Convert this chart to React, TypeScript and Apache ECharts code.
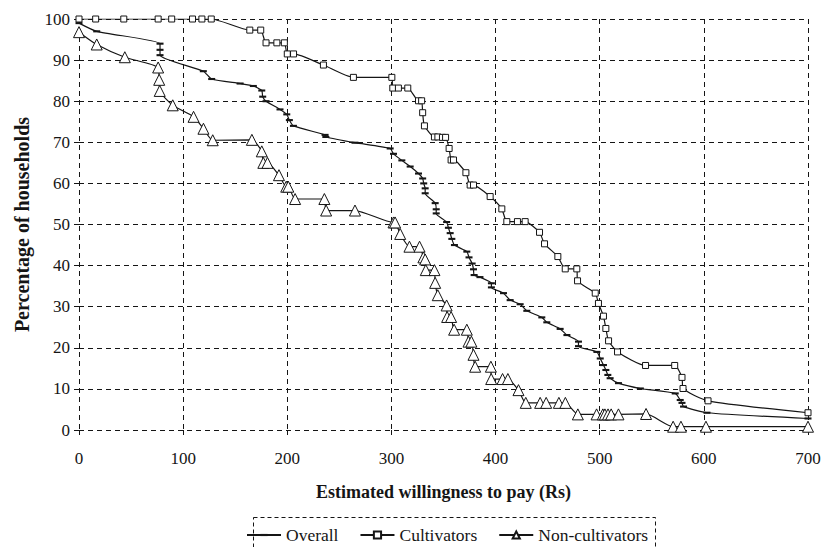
import React, { useEffect, useRef } from "react";
import * as echarts from "echarts";

const xTicks = [0, 100, 200, 300, 400, 500, 600, 700];
const yTicks = [0, 10, 20, 30, 40, 50, 60, 70, 80, 90, 100];

const overall: number[][] = [
  [0, 99], [17, 97], [77.8, 94], [77.8, 92.5], [77.8, 91.2], [119.4, 87.3], [127.4, 85.4],
  [154.7, 84.3], [167.4, 83.7], [175.5, 82.6], [176.4, 81.1], [179.6, 80], [193, 78],
  [199.5, 76.8], [202, 75.4], [205.9, 74], [236.3, 71.8], [237, 71.3], [265, 69.9],
  [298.8, 68.5], [302, 67.2], [310, 65.6], [318, 64.1], [326, 62.4], [330, 61.2],
  [331, 60], [332.4, 58.8], [332.4, 57.6], [342, 55.2], [343, 53.7], [343, 52.7],
  [353, 50.6], [354.7, 49.2], [356.4, 47.9], [358, 46.5], [360.5, 45], [372.4, 43.4],
  [374.5, 42], [377.5, 40.5], [378.8, 39.1], [379.4, 37.7], [385, 37.2], [396, 35.7],
  [396, 34.7], [407.6, 33.3], [414, 31.6], [423.6, 30.6], [430, 29], [444.4, 27.4],
  [449.2, 26.2], [462, 24.6], [468.5, 23.1], [479.6, 21.5], [479.6, 20.4], [497.3, 19],
  [500.5, 17.4], [503.6, 15.8], [505.9, 14.6], [507.8, 13.4], [510, 12.6], [518, 11.4],
  [539, 10.1], [572.5, 8.9], [577.3, 7.3], [579, 6.6], [580.5, 5.7], [603, 4.2], [700, 2.8],
];

const cultivators: number[][] = [
  [0, 100], [16, 100], [43, 100], [76, 100], [89, 100], [109, 100], [118, 100], [127, 100],
  [164, 97.3], [174.5, 97.3], [179.6, 94.2], [190, 94.2], [197.2, 94.2], [200, 91.5],
  [206, 91.5], [234.7, 88.8], [263.5, 85.8], [300.4, 85.8], [301.3, 83.2], [306.7, 83.2],
  [315.7, 83.2], [326, 80.1], [329, 80.1], [330, 77.2], [331.7, 74], [341.3, 71.3],
  [344.6, 71.3], [349, 71.2], [352, 71.2], [355.4, 68.5], [357.3, 65.7], [359.6, 65.7],
  [371.5, 62.6], [375.6, 59.6], [378.8, 59.6], [394.8, 56.8], [406, 53.8], [410.8, 50.7],
  [421, 50.7], [428.4, 50.7], [442.2, 48.1], [447, 45.3], [459.8, 42.2], [466.9, 39.2],
  [478, 39.2], [478.7, 36.3], [495.7, 33.3], [498.8, 30.8], [503.6, 27.7], [505.9, 24.7],
  [508.5, 21.7], [517.1, 19], [544, 15.7], [572, 15.7], [579, 12.8], [580, 10.1],
  [604, 7.1], [700, 4.2],
];

const nonCultivators: number[][] = [
  [0, 96.8], [17, 93.8], [44, 90.7], [76, 88.2], [77, 85.2], [77.5, 82.5], [90, 79],
  [110, 76.2], [119.5, 73.3], [128.4, 70.5], [166, 70.6], [175.5, 67.8], [177, 65],
  [181, 65], [192, 62], [199, 59.2], [201, 59.2], [207.5, 56.2], [235.6, 56.2],
  [237.3, 53.4], [265, 53.4], [302, 50.5], [303.5, 50.5], [308.4, 47.7], [317.3, 44.6],
  [327, 44.6], [330.7, 42], [332.4, 41.5], [333, 38.9], [341.3, 38.9], [342, 35.8],
  [344.5, 32.8], [353, 30.3], [353.5, 27.5], [357.3, 27.5], [360.2, 24.4], [372.4, 24.4],
  [374, 21.5], [376.8, 21.5], [378.8, 18.3], [380.4, 15.4], [395.5, 15.4], [395.8, 12.4],
  [406.7, 12.4], [411.8, 12.4], [422, 9.7], [429, 6.6], [442.8, 6.6], [448.6, 6.6],
  [460.8, 6.6], [467, 6.6], [479, 3.8], [497, 3.8], [503, 3.8], [505, 3.8], [508, 3.8],
  [511, 3.8], [518, 3.8], [544.5, 3.9], [570.5, 0.8], [578, 0.8], [602, 0.8], [700, 0.8],
];

const seriesNames = ["Overall", "Cultivators", "Non-cultivators"];
const xTitle = "Estimated willingness to pay (Rs)";
const yTitle = "Percentage of households";

const FONT = "Liberation Serif";
const INK = "#151515";
const DASH_SYMBOL = "path://M0,0L0,0M0,3.5L10,3.5L10,6.5L0,6.5ZM10,10L10,10";

export default function App() {
  const ref = useRef<HTMLDivElement>(null);
  useEffect(() => {
    if (!ref.current) return;
    const chart = echarts.init(ref.current, undefined, { renderer: "svg" });
    const dash = { color: INK, width: 1, type: [5, 4] as number[] };
    const lineBase = {
      type: "line" as const,
      smooth: 0.2,
      lineStyle: { color: INK, width: 1.2 },
      itemStyle: { color: "#fff", borderColor: INK, borderWidth: 1 },
      z: 3,
    };
    chart.setOption({
      animation: false,
      backgroundColor: "#fff",
      textStyle: { fontFamily: FONT, color: INK },
      grid: { left: 79, right: 17, top: 19, bottom: 117, containLabel: false },
      xAxis: {
        type: "value",
        min: xTicks[0],
        max: xTicks[xTicks.length - 1],
        interval: 100,
        name: xTitle,
        nameLocation: "middle",
        nameGap: 53,
        nameTextStyle: { fontFamily: FONT, fontSize: 18, fontWeight: "bold", color: INK },
        axisLine: { show: false },
        axisTick: { show: true, length: 5, lineStyle: { color: INK } },
        axisLabel: { fontFamily: FONT, fontSize: 17, color: INK, margin: 20 },
        splitLine: { show: true, lineStyle: dash },
      },
      yAxis: {
        type: "value",
        min: yTicks[0],
        max: yTicks[yTicks.length - 1],
        interval: 10,
        name: yTitle,
        nameLocation: "middle",
        nameGap: 47,
        nameTextStyle: { fontFamily: FONT, fontSize: 20, fontWeight: "bold", color: INK },
        axisLine: { show: false },
        axisTick: { show: true, length: 5, lineStyle: { color: INK } },
        axisLabel: { fontFamily: FONT, fontSize: 17, color: INK, margin: 9 },
        splitLine: { show: true, lineStyle: dash },
      },
      legend: {
        data: seriesNames,
        left: 246,
        top: 526,
        padding: 0,
        itemWidth: 34,
        itemHeight: 9,
        itemGap: 21,
        textStyle: { fontFamily: FONT, fontSize: 17.5, color: INK },
      },
      graphic: [
        {
          type: "rect",
          shape: { x: 253.5, y: 517.5, width: 402, height: 40 },
          style: { fill: "none", stroke: INK, lineWidth: 1, lineDash: [4, 3] },
          silent: true,
        },
      ],
      series: [
        {
          ...lineBase,
          name: seriesNames[0],
          data: overall,
          symbol: DASH_SYMBOL,
          symbolSize: 7,
          itemStyle: { color: INK, borderColor: INK, borderWidth: 0 },
        },
        {
          ...lineBase,
          name: seriesNames[1],
          data: cultivators,
          symbol: "rect",
          symbolSize: 6,
        },
        {
          ...lineBase,
          name: seriesNames[2],
          data: nonCultivators,
          symbol: "triangle",
          symbolSize: 11,
        },
      ],
    });
    return () => chart.dispose();
  }, []);
  return (
    <div
      ref={ref}
      style={{ position: "fixed", left: 0, top: 0, width: 825, height: 547, background: "#fff" }}
    />
  );
}
